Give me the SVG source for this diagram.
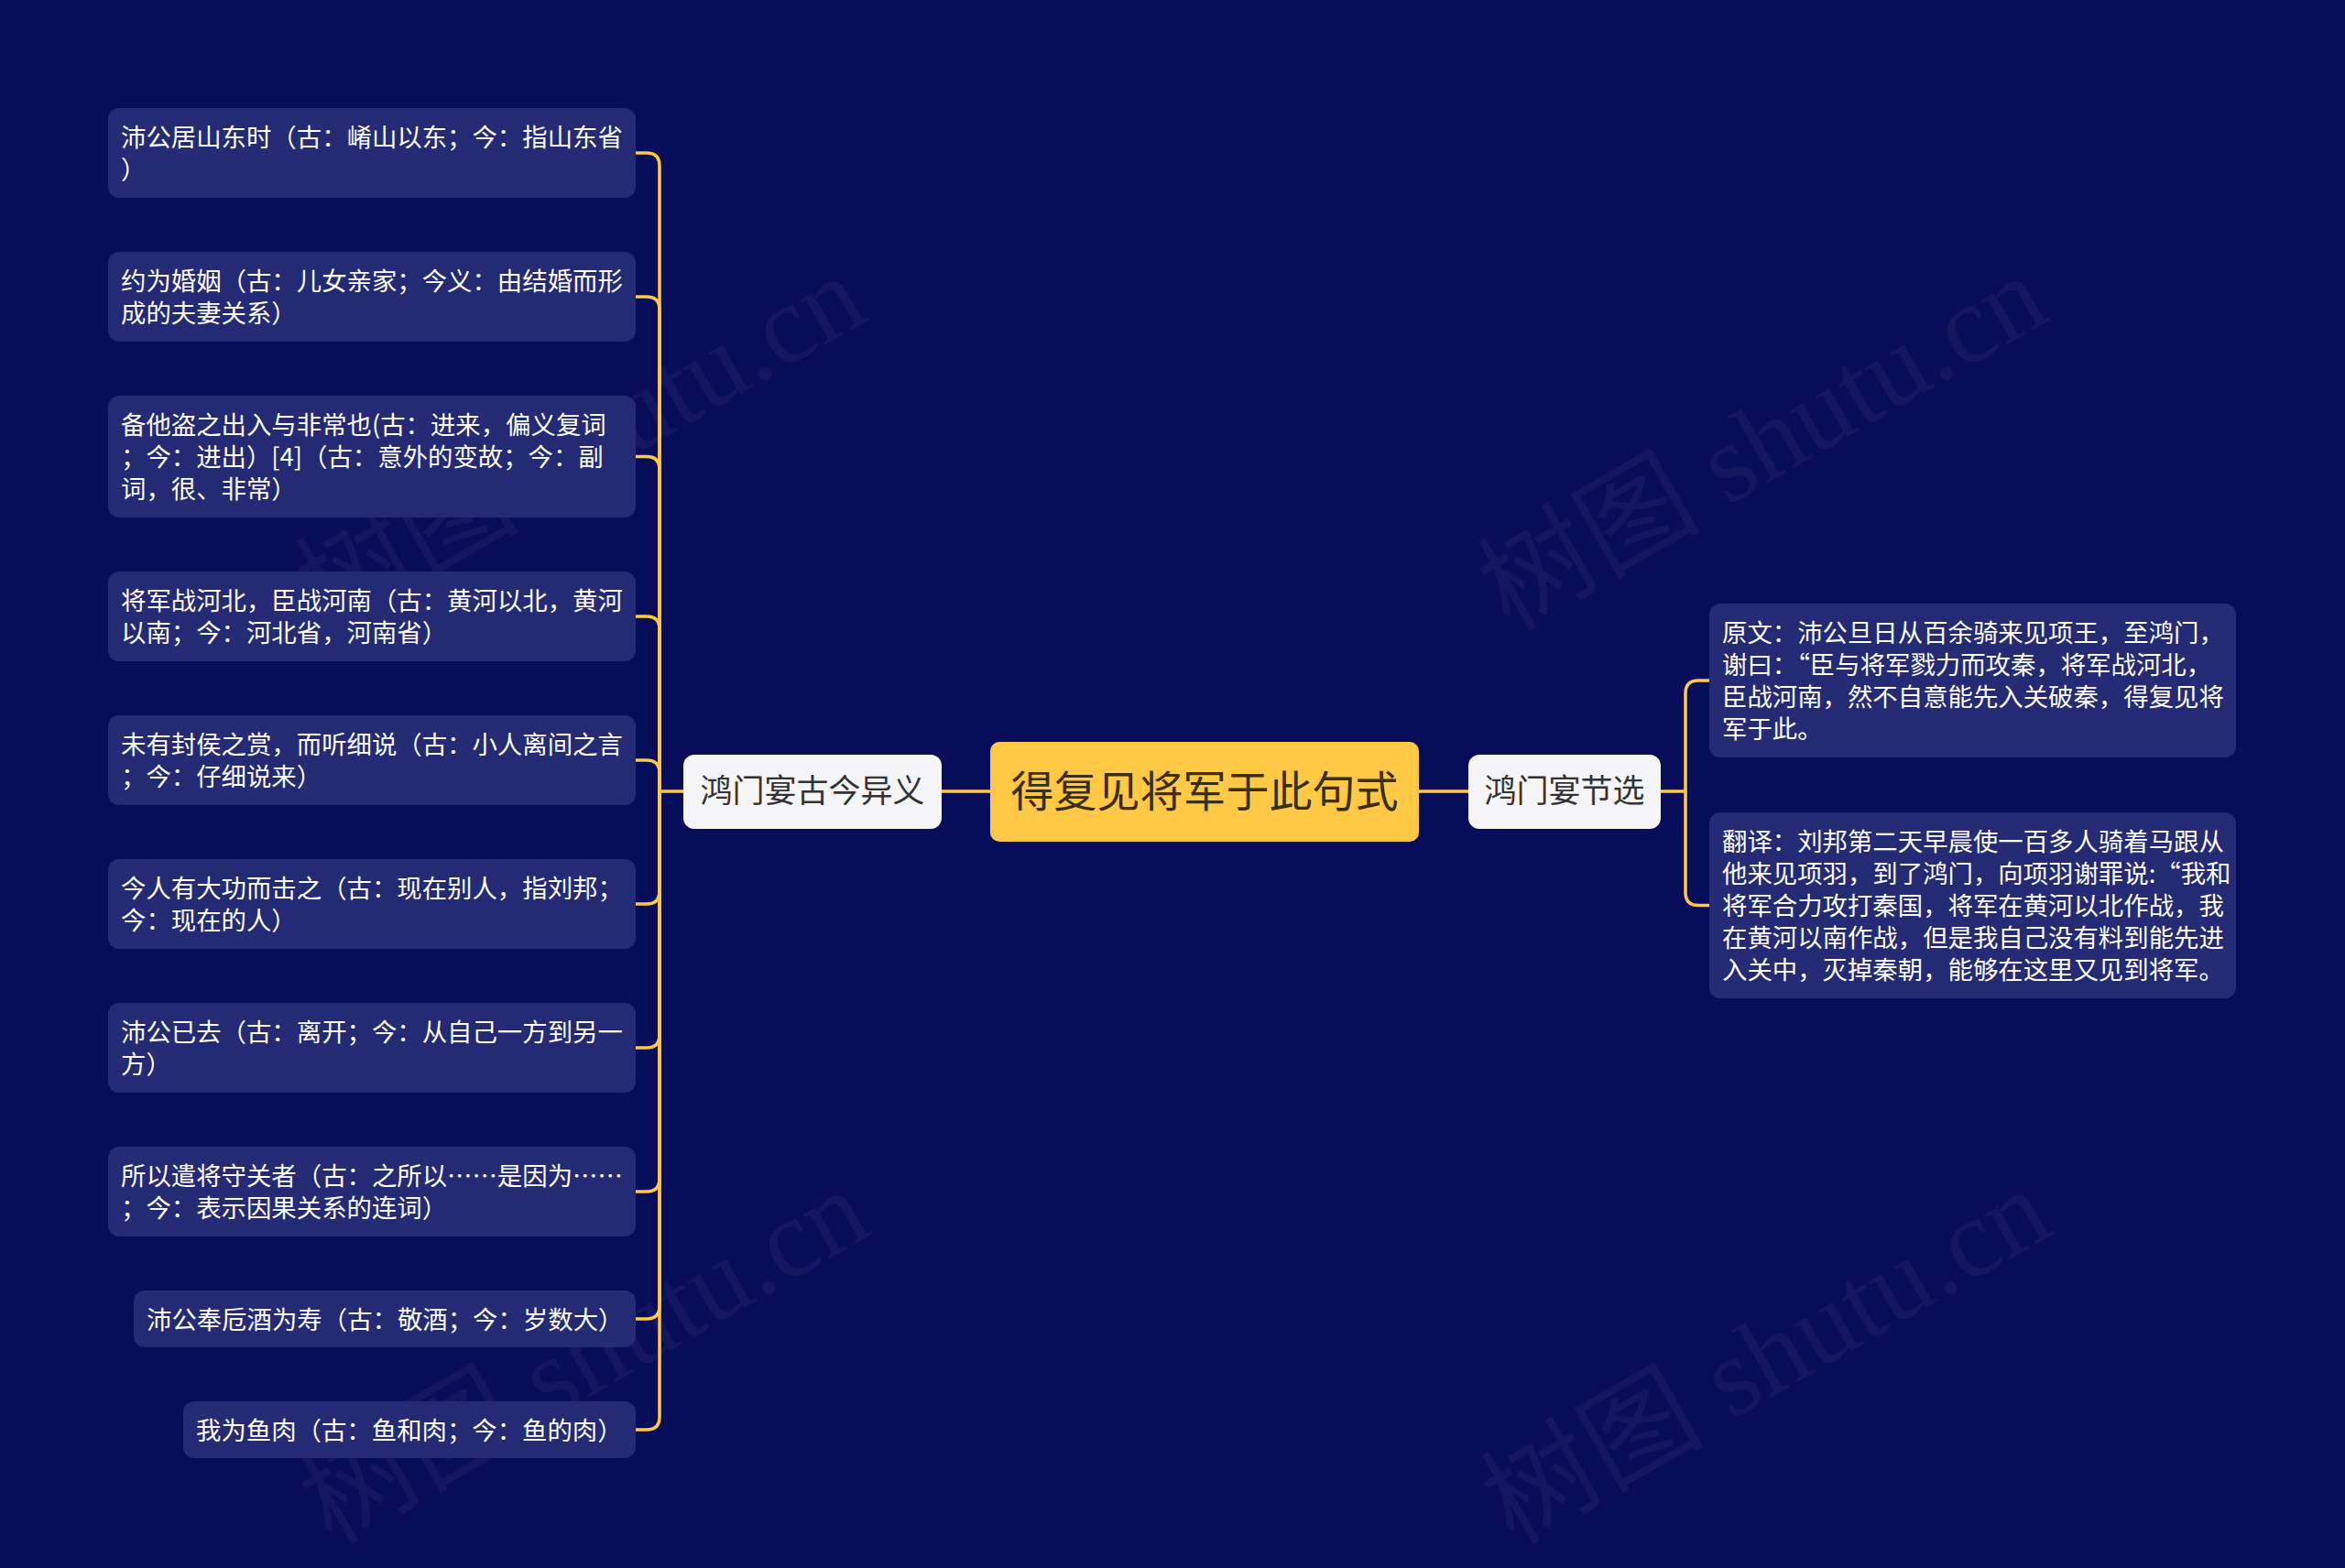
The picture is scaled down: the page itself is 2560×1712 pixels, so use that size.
<svg xmlns="http://www.w3.org/2000/svg" width="2560" height="1712" viewBox="0 0 2560 1712">
<style>
.bg{fill:#080D59}
.leaf{fill:#242A74}
.lt{font-family:"Noto Sans CJK SC","Noto Sans",sans-serif;font-size:27.4px;fill:#FFFFFF}
.sub{fill:#F5F5F7}
.st{font-family:"Noto Sans CJK SC","Noto Sans",sans-serif;font-size:35px;fill:#333333;text-anchor:middle}
.root{fill:#FFC845}
.rt{font-family:"Noto Sans CJK SC","Noto Sans",sans-serif;font-size:47px;fill:#3A2E10;text-anchor:middle}
.ln{fill:none;stroke:#FFC845;stroke-width:3.5;stroke-linecap:round;stroke-linejoin:round}
.wm{font-family:"Liberation Serif","Noto Sans CJK SC",serif;font-size:122px;fill:#FFFFFF;fill-opacity:0.045}
</style>
<rect class="bg" x="0" y="0" width="2560" height="1712"/>
<g id="watermarks">
<text class="wm" transform="translate(358,690) rotate(-30)">树图 shutu.cn</text>
<text class="wm" transform="translate(1648,690) rotate(-30)">树图 shutu.cn</text>
<text class="wm" transform="translate(362,1688) rotate(-30)">树图 shutu.cn</text>
<text class="wm" transform="translate(1652,1688) rotate(-30)">树图 shutu.cn</text>
</g>
<g id="connectors">
<path class="ln" d="M1028 864 L1081 864"/>
<path class="ln" d="M1549 864 L1603 864"/>
<path class="ln" d="M746 864 L720 864"/>
<path class="ln" d="M720 864 L720 181 Q720 167 706 167 L694 167"/>
<path class="ln" d="M720 864 L720 338 Q720 324 706 324 L694 324"/>
<path class="ln" d="M720 864 L720 512.5 Q720 498.5 706 498.5 L694 498.5"/>
<path class="ln" d="M720 864 L720 687 Q720 673 706 673 L694 673"/>
<path class="ln" d="M720 864 L720 844 Q720 830 706 830 L694 830"/>
<path class="ln" d="M720 864 L720 973 Q720 987 706 987 L694 987"/>
<path class="ln" d="M720 864 L720 1130 Q720 1144 706 1144 L694 1144"/>
<path class="ln" d="M720 864 L720 1287 Q720 1301 706 1301 L694 1301"/>
<path class="ln" d="M720 864 L720 1426 Q720 1440 706 1440 L694 1440"/>
<path class="ln" d="M720 864 L720 1547 Q720 1561 706 1561 L694 1561"/>
<path class="ln" d="M1813 864 L1840 864"/>
<path class="ln" d="M1840 864 L1840 757 Q1840 743 1854 743 L1866 743"/>
<path class="ln" d="M1840 864 L1840 974.5 Q1840 988.5 1854 988.5 L1866 988.5"/>
</g>
<g id="root">
<rect class="root" x="1081" y="810" width="468" height="109" rx="10"/>
<text class="rt" x="1315" y="881">得复见将军于此句式</text>
</g>
<g id="branch-left">
<rect class="sub" x="746" y="824" width="282" height="81" rx="12"/>
<text class="st" x="887" y="876">鸿门宴古今异义</text>
</g>
<g id="branch-right">
<rect class="sub" x="1603" y="824" width="210" height="81" rx="12"/>
<text class="st" x="1708" y="876">鸿门宴节选</text>
</g>
<g id="leaf1">
<rect class="leaf" x="118" y="118" width="576" height="98" rx="12"/>
<text class="lt" x="132" y="159.5">沛公居山东时（古：崤山以东；今：指山东省</text>
<text class="lt" x="132" y="194.5">）</text>
</g>
<g id="leaf2">
<rect class="leaf" x="118" y="275" width="576" height="98" rx="12"/>
<text class="lt" x="132" y="316.5">约为婚姻（古：儿女亲家；今义：由结婚而形</text>
<text class="lt" x="132" y="351.5">成的夫妻关系）</text>
</g>
<g id="leaf3">
<rect class="leaf" x="118" y="432" width="576" height="133" rx="12"/>
<text class="lt" x="132" y="473.5">备他盗之出入与非常也(古：进来，偏义复词</text>
<text class="lt" x="132" y="508.5">；今：进出）[4]（古：意外的变故；今：副</text>
<text class="lt" x="132" y="543.5">词，很、非常）</text>
</g>
<g id="leaf4">
<rect class="leaf" x="118" y="624" width="576" height="98" rx="12"/>
<text class="lt" x="132" y="665.5">将军战河北，臣战河南（古：黄河以北，黄河</text>
<text class="lt" x="132" y="700.5">以南；今：河北省，河南省）</text>
</g>
<g id="leaf5">
<rect class="leaf" x="118" y="781" width="576" height="98" rx="12"/>
<text class="lt" x="132" y="822.5">未有封侯之赏，而听细说（古：小人离间之言</text>
<text class="lt" x="132" y="857.5">；今：仔细说来）</text>
</g>
<g id="leaf6">
<rect class="leaf" x="118" y="938" width="576" height="98" rx="12"/>
<text class="lt" x="132" y="979.5">今人有大功而击之（古：现在别人，指刘邦；</text>
<text class="lt" x="132" y="1014.5">今：现在的人）</text>
</g>
<g id="leaf7">
<rect class="leaf" x="118" y="1095" width="576" height="98" rx="12"/>
<text class="lt" x="132" y="1136.5">沛公已去（古：离开；今：从自己一方到另一</text>
<text class="lt" x="132" y="1171.5">方）</text>
</g>
<g id="leaf8">
<rect class="leaf" x="118" y="1252" width="576" height="98" rx="12"/>
<text class="lt" x="132" y="1293.5">所以遣将守关者（古：之所以……是因为……</text>
<text class="lt" x="132" y="1328.5">；今：表示因果关系的连词）</text>
</g>
<g id="leaf9">
<rect class="leaf" x="146" y="1409" width="548" height="62" rx="12"/>
<text class="lt" x="160" y="1450.5">沛公奉卮酒为寿（古：敬酒；今：岁数大）</text>
</g>
<g id="leaf10">
<rect class="leaf" x="200" y="1530" width="494" height="62" rx="12"/>
<text class="lt" x="214" y="1571.5">我为鱼肉（古：鱼和肉；今：鱼的肉）</text>
</g>
<g id="leaf-r1">
<rect class="leaf" x="1866" y="659" width="575" height="168" rx="12"/>
<text class="lt" x="1880" y="700.5">原文：沛公旦日从百余骑来见项王，至鸿门，</text>
<text class="lt" x="1880" y="735.5">谢曰：“臣与将军戮力而攻秦，将军战河北，</text>
<text class="lt" x="1880" y="770.5">臣战河南，然不自意能先入关破秦，得复见将</text>
<text class="lt" x="1880" y="805.5">军于此。</text>
</g>
<g id="leaf-r2">
<rect class="leaf" x="1866" y="887" width="575" height="203" rx="12"/>
<text class="lt" x="1880" y="928.5">翻译：刘邦第二天早晨使一百多人骑着马跟从</text>
<text class="lt" x="1880" y="963.5">他来见项羽，到了鸿门，向项羽谢罪说:“我和</text>
<text class="lt" x="1880" y="998.5">将军合力攻打秦国，将军在黄河以北作战，我</text>
<text class="lt" x="1880" y="1033.5">在黄河以南作战，但是我自己没有料到能先进</text>
<text class="lt" x="1880" y="1068.5">入关中，灭掉秦朝，能够在这里又见到将军。</text>
</g>
</svg>
